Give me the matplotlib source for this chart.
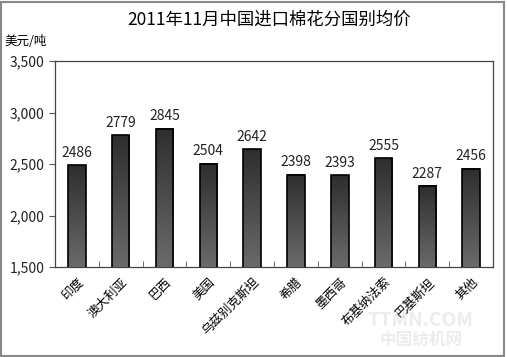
import matplotlib.pyplot as plt
import numpy as np
from matplotlib.patches import Rectangle

plt.rcParams['font.family'] = ['Noto Sans CJK SC', 'DejaVu Sans']

# 2011年11月中国进口棉花分国别均价
countries = ['印度', '澳大利亚', '巴西', '美国', '乌兹别克斯坦', '希腊', '墨西哥', '布基纳法索', '巴基斯坦', '其他']
prices = [2486, 2779, 2845, 2504, 2642, 2398, 2393, 2555, 2287, 2456]
yticks = [1500, 2000, 2500, 3000, 3500]
ylabels = ['1,500', '2,000', '2,500', '3,000', '3,500']

fig = plt.figure(figsize=(5.07, 3.57), dpi=100)

# watermark (drawn first so it stays behind)
fig.text(0.83, 0.103, 'TTMN.COM', ha='center', va='center', fontsize=14, fontweight='bold',
         style='italic', color='#ececec', zorder=0)
fig.text(0.83, 0.047, '中国纺机网', ha='center', va='center', fontsize=12, fontweight='bold',
         color='#ececec', zorder=0)

ax = fig.add_axes([0.1085, 0.252, 0.864, 0.577])
ax.patch.set_alpha(0)

x = np.arange(len(countries))
w = 0.4
bars = ax.bar(x, prices, width=w, color='none', edgecolor='black', linewidth=1.2, zorder=3)

# gradient fill: dark top, lighter bottom
cm = plt.matplotlib.colors.LinearSegmentedColormap.from_list('g', ['#6a6a6a', '#2e2e2e'])
grad = np.linspace(0, 1, 100).reshape(-1, 1)
for xi, v in zip(x, prices):
    ax.imshow(grad, extent=[xi - w/2, xi + w/2, 1500, v], aspect='auto',
              cmap=cm, origin='lower', zorder=2)
    ax.text(xi, v + 50, str(v), ha='center', va='bottom', fontsize=10, color='#222222')

ax.set_xlim(-0.5, len(countries) - 0.5)
ax.set_ylim(1500, 3500)
ax.set_yticks(yticks)
ax.set_yticklabels(ylabels, fontsize=10, color='#222222')
ax.tick_params(axis='y', direction='out', length=4, color='#555555')

ax.set_xticks(x)
ax.set_xticklabels(countries, rotation=45, ha='right', rotation_mode='anchor', fontsize=9)
ax.tick_params(axis='x', length=0, pad=6)
ax.set_xticks(np.arange(len(countries) + 1) - 0.5, minor=True)
ax.tick_params(axis='x', which='minor', direction='in', length=4, color='#555555')

for s in ax.spines.values():
    s.set_color('#444444')
    s.set_linewidth(0.9)

fig.text(0.53, 0.945, '2011年11月中国进口棉花分国别均价', ha='center', va='center', fontsize=12.5)
fig.text(0.008, 0.883, '美元/吨', ha='left', va='center', fontsize=9)

fig.patches.append(Rectangle((0.002, 0.004), 0.992, 0.99, transform=fig.transFigure,
                             fill=False, edgecolor='#888888', linewidth=1.5))

fig.savefig('out.png', dpi=100)
